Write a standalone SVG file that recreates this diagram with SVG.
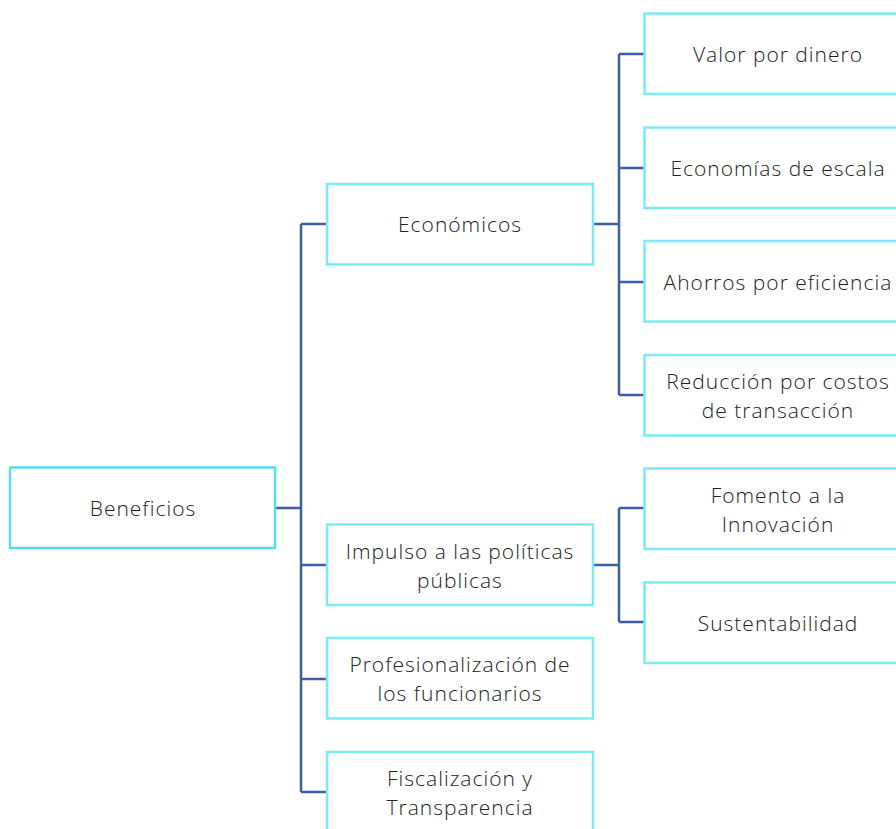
<svg xmlns="http://www.w3.org/2000/svg" width="896" height="829" viewBox="0 0 896 829">
<style>
.b{fill:#fff;stroke:#7BEAF2;stroke-width:2.5}
.b0{fill:#fff;stroke:#55DCF5;stroke-width:2.5}
.c{fill:none;stroke:#3C5DA8;stroke-width:2.5}
text{font-family:"Open Sans","Noto Sans",sans-serif;font-size:21px;letter-spacing:1px;fill:#222;text-anchor:middle;font-weight:300}
</style>
<rect width="896" height="829" fill="#fff"/>
<g id="connectors">
<path class="c" d="M275,508H301M301,224V792M301,224H327M301,565H327M301,679H327M301,792H327"/>
<path class="c" d="M593,224H619M619,54V395M619,54H644M619,168H644M619,282H644M619,395H644"/>
<path class="c" d="M593,565H619M619,508V622M619,508H644M619,622H644"/>
</g>
<g id="beneficios"><rect class="b0" x="10" y="467.5" width="265" height="80.5"/><text x="143" y="516">Beneficios</text></g>
<g id="economicos"><rect class="b" x="327" y="184" width="266" height="80.5"/><text x="460" y="232">Económicos</text></g>
<g id="impulso"><rect class="b" x="327" y="524.5" width="266" height="80.5"/><text x="460" y="559">Impulso a las políticas</text><text x="460" y="588">públicas</text></g>
<g id="profesionalizacion"><rect class="b" x="327" y="638" width="266" height="80.5"/><text x="460" y="672">Profesionalización de</text><text x="460" y="701">los funcionarios</text></g>
<g id="fiscalizacion"><rect class="b" x="327" y="752" width="266" height="90"/><text x="460" y="786">Fiscalización y</text><text x="460" y="815">Transparencia</text></g>
<g id="valor"><rect class="b" x="644.5" y="13.5" width="270" height="80.5"/><text x="778" y="62">Valor por dinero</text></g>
<g id="escala"><rect class="b" x="644.5" y="127.5" width="270" height="80.5"/><text x="778" y="176">Economías de escala</text></g>
<g id="ahorros"><rect class="b" x="644.5" y="241" width="270" height="80.5"/><text x="778" y="290">Ahorros por eficiencia</text></g>
<g id="reduccion"><rect class="b" x="644.5" y="355" width="270" height="80.5"/><text x="778" y="389">Reducción por costos</text><text x="778" y="418">de transacción</text></g>
<g id="fomento"><rect class="b" x="644.5" y="468.5" width="270" height="80.5"/><text x="778" y="503">Fomento a la</text><text x="778" y="532">Innovación</text></g>
<g id="sustentabilidad"><rect class="b" x="644.5" y="582.5" width="270" height="80.5"/><text x="778" y="631">Sustentabilidad</text></g>
</svg>
